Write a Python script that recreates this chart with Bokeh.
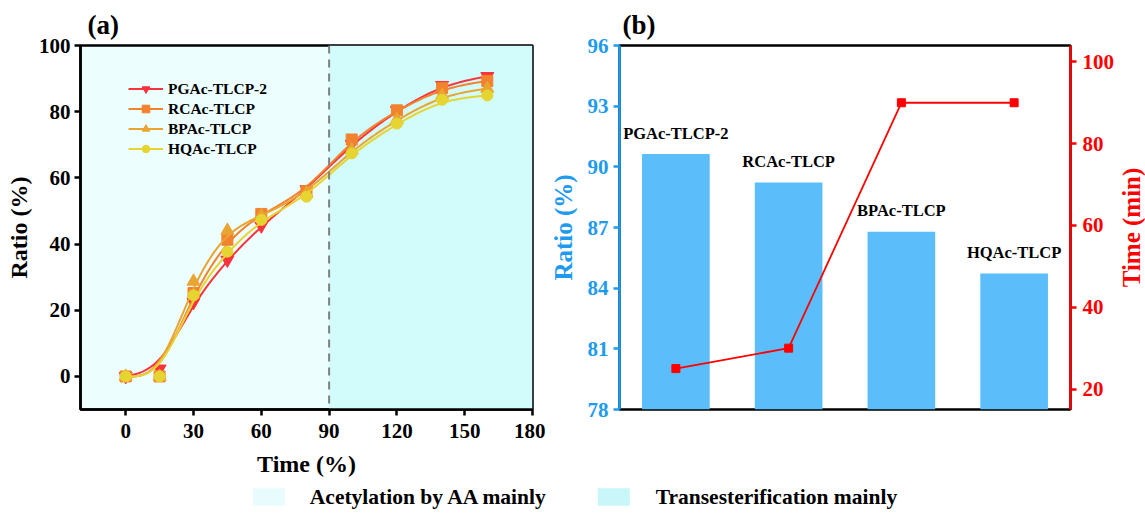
import numpy as np
from bokeh.plotting import figure
from bokeh.models import (Range1d, LinearAxis, FixedTicker, Legend, LegendItem,
                          BoxAnnotation, Span, FactorRange, Label)
from bokeh.layouts import row, column
from bokeh.core.properties import value
from bokeh.embed import file_html
from bokeh.resources import INLINE

FONT = "Liberation Serif"

# ---- (a) conversion ratio over reaction time ----
time_pts = [0, 15, 30, 45, 60, 80, 100, 120, 140, 160]
pgac_tlcp2 = [0, 2.3, 22.4, 35.2, 45.5, 56.5, 70.2, 80.4, 88.0, 90.7]
rcac_tlcp = [0, 0, 25.2, 41.3, 49.1, 56.0, 71.6, 80.4, 87.1, 89.3]
bpac_tlcp = [0, 0, 28.7, 44.1, 48.5, 55.3, 68.4, 77.6, 84.9, 87.0]
hqac_tlcp = [0, 0, 24.5, 37.7, 47.3, 54.3, 67.4, 76.4, 83.6, 84.9]
series_names = ["PGAc-TLCP-2", "RCAc-TLCP", "BPAc-TLCP", "HQAc-TLCP"]
stage_boundary = 90
x_ticks_a = [0, 30, 60, 90, 120, 150, 180]
y_ticks_a = [0, 20, 40, 60, 80, 100]

# ---- (b) final ratio and time per sample ----
samples = ["PGAc-TLCP-2", "RCAc-TLCP", "BPAc-TLCP", "HQAc-TLCP"]
final_ratio = [90.63, 89.22, 86.79, 84.72]
time_min = [25, 30, 90, 90]
y_ticks_ratio = [78, 81, 84, 87, 90, 93, 96]
y_ticks_time = [20, 40, 60, 80, 100]

stage_labels = ["Acetylation by AA mainly", "Transesterification mainly"]

LIGHT_BG = "#EDFEFE"
DARK_BG = "#D2FBFC"
BLUE = "#1E9BEF"
RED = "#FF0000"
BAR = "#5BBEFA"
series_colors = ["#F8333C", "#F2822E", "#E9A532", "#E6D530"]
series_markers = ["inverted_triangle", "square", "triangle", "circle"]


def bspline_path(xs, ys, n=40):
    """Cubic B-spline connector through the control points (clamped ends)."""
    P = np.column_stack([xs, ys]).astype(float)
    P = np.vstack([P[:1], P[:1], P, P[-1:], P[-1:]])
    t = np.linspace(0, 1, n, endpoint=False)[:, None]
    b0 = (1 - t) ** 3 / 6
    b1 = (3 * t ** 3 - 6 * t ** 2 + 4) / 6
    b2 = (-3 * t ** 3 + 3 * t ** 2 + 3 * t + 1) / 6
    b3 = t ** 3 / 6
    segs = [b0 * P[i] + b1 * P[i + 1] + b2 * P[i + 2] + b3 * P[i + 3]
            for i in range(len(P) - 3)]
    out = np.vstack(segs + [P[-1:]])
    return out[:, 0], out[:, 1]


def style_axis(ax, color="black", size="21px", label_size="24px"):
    ax.axis_line_color = color
    ax.axis_line_width = 2.5
    ax.major_tick_line_color = color
    ax.major_tick_line_width = 2.5
    ax.major_tick_out = 6
    ax.major_tick_in = 0
    ax.minor_tick_line_color = None
    ax.major_label_text_font = FONT
    ax.major_label_text_font_style = "bold"
    ax.major_label_text_font_size = size
    ax.major_label_text_color = color
    ax.axis_label_text_font = FONT
    ax.axis_label_text_font_style = "bold"
    ax.axis_label_text_font_size = label_size
    ax.axis_label_text_color = color


def style_title(p, text, offset):
    p.title.text = text
    p.title.text_font = FONT
    p.title.text_font_style = "bold"
    p.title.text_font_size = "27px"
    p.title.text_color = "black"
    p.title.align = "left"
    p.title.offset = offset
    p.title.standoff = 11


# ---------------- panel (a) ----------------
pa = figure(width=545, height=480, x_range=Range1d(-20, 180), y_range=Range1d(-10, 100),
            output_backend="svg", toolbar_location=None,
            min_border_left=80, min_border_right=13, min_border_top=45, min_border_bottom=71)
pa.background_fill_color = LIGHT_BG
pa.border_fill_color = "white"
pa.grid.visible = False
pa.outline_line_color = "black"
pa.outline_line_width = 2.5
pa.outline_line_alpha = 1

pa.add_layout(BoxAnnotation(left=stage_boundary, fill_color=DARK_BG, fill_alpha=1,
                            line_color=None, level="underlay"))
pa.add_layout(Span(location=stage_boundary, dimension="height", line_color="#808080",
                   line_width=2, line_dash="8 6"))

style_axis(pa.xaxis[0])
style_axis(pa.yaxis[0])
pa.xaxis.ticker = FixedTicker(ticks=x_ticks_a)
pa.yaxis.ticker = FixedTicker(ticks=y_ticks_a)
pa.xaxis.axis_label = "Time (%)"
pa.yaxis.axis_label = "Ratio (%)"
pa.xaxis.major_label_standoff = 8
pa.xaxis.axis_label_standoff = 10
pa.yaxis.major_label_standoff = 4
pa.yaxis.axis_label_standoff = 4
style_title(pa, "(a)", 7)

items = []
for name, ys, col, mk in zip(series_names, [pgac_tlcp2, rcac_tlcp, bpac_tlcp, hqac_tlcp],
                             series_colors, series_markers):
    sx, sy = bspline_path(time_pts, ys)
    lr = pa.line(sx, sy, line_color=col, line_width=2)
    size = 13 if mk in ("inverted_triangle", "triangle") else 11
    mr = pa.scatter(time_pts, ys, marker=mk, size=size, fill_color=col, line_color=col)
    items.append(LegendItem(label=name, renderers=[lr, mr]))

leg_a = Legend(items=items, location=(48, 251), glyph_width=35, glyph_height=19,
               label_height=19, label_standoff=5, spacing=1, padding=0, margin=0,
               background_fill_alpha=0, border_line_color=None,
               label_text_font=FONT, label_text_font_style="bold",
               label_text_font_size="15.5px", label_text_color="black")
pa.add_layout(leg_a)

# ---------------- panel (b) ----------------
pb = figure(width=572, height=480, x_range=FactorRange(*samples, range_padding=0),
            y_range=Range1d(78, 96), output_backend="svg", toolbar_location=None,
            min_border_left=74, min_border_right=45, min_border_top=45, min_border_bottom=71)
pb.extra_y_ranges = {"time": Range1d(15, 104)}
pb.grid.visible = False
pb.outline_line_color = "black"
pb.outline_line_width = 2.5
pb.background_fill_color = "white"
pb.xaxis.visible = False

style_axis(pb.yaxis[0], color=BLUE, label_size="25px")
pb.yaxis.ticker = FixedTicker(ticks=y_ticks_ratio)
pb.yaxis.axis_label = "Ratio (%)"
pb.yaxis.major_label_standoff = 5
pb.yaxis.axis_label_standoff = 8

rax = LinearAxis(y_range_name="time")
style_axis(rax, color=RED, size="21px")
rax.ticker = FixedTicker(ticks=y_ticks_time)
rax.major_label_standoff = 6
pb.add_layout(rax, "right")
style_title(pb, "(b)", 3)

pb.vbar(x=samples, top=final_ratio, width=0.6, fill_color=BAR, line_color=None)
pb.text(x=samples, y=final_ratio, text=samples, y_offset=-21, text_align="center",
        text_baseline="middle", text_font=value(FONT), text_font_style="bold",
        text_font_size="16.5px", text_color="black")
pb.line(samples, time_min, y_range_name="time", line_color=RED, line_width=1.8)
pb.scatter(samples, time_min, y_range_name="time", marker="square", size=8,
           fill_color=RED, line_color=RED)

# narrow strip holding the right-hand axis title of panel (b)
pr = figure(width=28, height=480, x_range=Range1d(0, 1), y_range=Range1d(0, 1),
            output_backend="svg", toolbar_location=None,
            min_border_left=0, min_border_right=0, min_border_top=45, min_border_bottom=71)
pr.axis.visible = False
pr.grid.visible = False
pr.outline_line_color = None
pr.add_layout(Label(x=0.5, y=0.5, text="Time (min)", angle=np.pi / 2, text_align="center",
                    text_baseline="middle", text_font=FONT, text_font_style="bold",
                    text_font_size="25px", text_color=RED))

# ---------------- shared stage legend ----------------
pl = figure(width=1145, height=33, x_range=Range1d(0, 1), y_range=Range1d(0, 1),
            output_backend="svg", toolbar_location=None,
            min_border=0, min_border_left=0, min_border_right=0,
            min_border_top=0, min_border_bottom=0)
pl.axis.visible = False
pl.grid.visible = False
pl.outline_line_color = None
r1 = pl.quad(left=[5], right=[6], bottom=[5], top=[6], fill_color="#E8FCFD", line_color=None)
r2 = pl.quad(left=[5], right=[6], bottom=[5], top=[6], fill_color="#C9F6F9", line_color=None)
leg_l = Legend(items=[LegendItem(label=stage_labels[0], renderers=[r1]),
                      LegendItem(label=stage_labels[1], renderers=[r2])],
               location="center", orientation="horizontal", glyph_width=40, glyph_height=22,
               label_standoff=22, spacing=48, padding=0, margin=0,
               background_fill_alpha=0, border_line_color=None,
               label_text_font=FONT, label_text_font_style="bold",
               label_text_font_size="21.5px", label_text_color="black")
pl.add_layout(leg_l)

layout = column(row(pa, pb, pr), pl)
open("out.html", "w").write(file_html(layout, INLINE))
